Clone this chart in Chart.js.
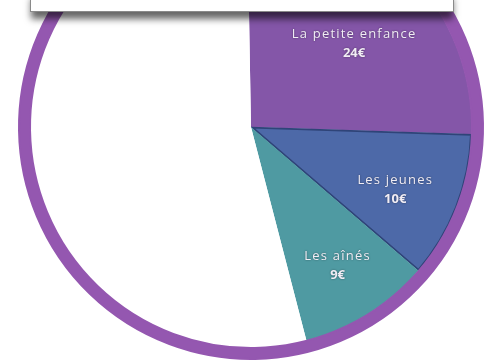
<!DOCTYPE html>
<html>
<head>
<meta charset="utf-8">
<script src="https://cdn.jsdelivr.net/npm/chart.js@4/dist/chart.umd.min.js"></script>
<style>
  html, body { margin: 0; padding: 0; background: #ffffff; width: 486px; height: 362px; overflow: hidden; position: relative; }
  #wrap { position: absolute; left: 0; top: -113px; width: 486px; height: 480px; }
  #topbox { position: absolute; left: 30px; top: -10px; width: 422px; height: 20px; background: #ffffff;
            border: 1px solid #8a8a8a; box-shadow: 0 8px 7px -1px rgba(0,0,0,0.6); z-index: 5; }
</style>
</head>
<body>
<div id="wrap"><canvas id="c" width="486" height="480"></canvas></div>
<div id="topbox"></div>
<script>
const categories = ['La petite enfance', 'Les jeunes', 'Les aînés', ''];
const values = [24, 10, 9, 50];
const valueLabels = ['24€', '10€', '9€', ''];
const sliceColors = ['#8456a8', '#4d69a8', '#4f9aa2', '#ffffff'];
const ringColor = '#9457b0';

const labelPlugin = {
  id: 'sliceLabels',
  afterDatasetsDraw(chart) {
    const ctx = chart.ctx;
    const meta = chart.getDatasetMeta(1);
    const frac = [0.6, 0.71, 0.74, 0];
    const along = [0.56, 0.55, 0.5, 0.5];
    ctx.save();
    ctx.textAlign = 'center';
    ctx.textBaseline = 'middle';
    ctx.fillStyle = '#f1edf5';
    ctx.shadowColor = 'rgba(0,0,0,0.45)';
    ctx.shadowBlur = 2;
    meta.data.forEach((arc, i) => {
      if (!categories[i]) return;
      const p = arc.getProps(['x', 'y', 'startAngle', 'endAngle', 'outerRadius'], true);
      const a = p.startAngle + (p.endAngle - p.startAngle) * along[i];
      const r = p.outerRadius * frac[i];
      const x = p.x + Math.cos(a) * r;
      const y = p.y + Math.sin(a) * r;
      ctx.font = '13px "Open Sans", sans-serif';
      ctx.letterSpacing = '1.2px';
      ctx.fillText(categories[i], x, y - 9);
      ctx.font = 'bold 13px "Open Sans", sans-serif';
      ctx.letterSpacing = '0px';
      ctx.fillText(valueLabels[i], x, y + 10);
    });
    ctx.restore();
  }
};

new Chart(document.getElementById('c'), {
  type: 'pie',
  data: {
    labels: categories,
    datasets: [
      { data: [1], backgroundColor: [ringColor], borderColor: [ringColor], borderWidth: 2, borderAlign: 'center', weight: 11 },
      { data: values, backgroundColor: sliceColors,
        borderColor: ['#6a4690', '#2f4478', '#3f7f88', '#ffffff'],
        borderWidth: [0, 1.5, 0, 0], borderAlign: 'inner', weight: 221 }
    ]
  },
  options: {
    responsive: false,
    animation: false,
    radius: 232,
    rotation: -1,
    layout: { padding: { left: 16 } },
    plugins: { legend: { display: false }, tooltip: { enabled: false }, title: { display: false } }
  },
  plugins: [labelPlugin]
});
</script>
</body>
</html>
